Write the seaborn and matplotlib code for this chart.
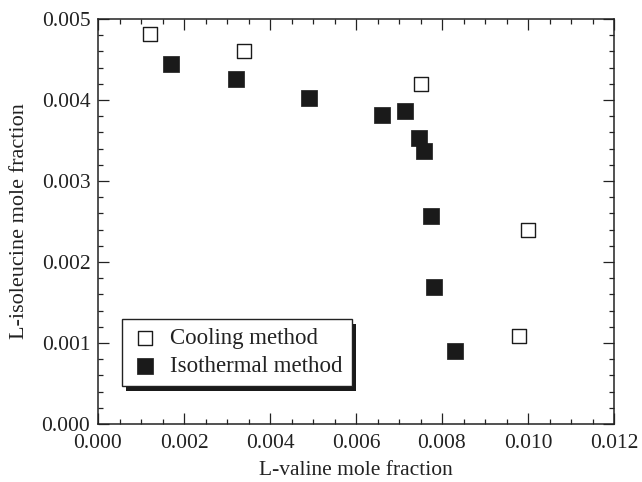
import matplotlib
matplotlib.use("Agg")
import matplotlib.pyplot as plt
import seaborn as sns
import pandas as pd
from matplotlib.ticker import MultipleLocator, FormatStrFormatter
from matplotlib.patches import Rectangle

# Data
cool_x = [0.00122, 0.0034, 0.0075, 0.0100, 0.0098]
cool_y = [0.00481, 0.0046, 0.0042, 0.00240, 0.00109]
iso_x = [0.0017, 0.0032, 0.0049, 0.0066, 0.00714, 0.00747, 0.00758, 0.00774, 0.00781, 0.0083]
iso_y = [0.00445, 0.00426, 0.00402, 0.00381, 0.00386, 0.00353, 0.00337, 0.00257, 0.00169, 0.0009]
series_names = ["Cooling method", "Isothermal method"]
x_label = "L-valine mole fraction"
y_label = "L-isoleucine mole fraction"

cool = pd.DataFrame({"x": cool_x, "y": cool_y})
iso = pd.DataFrame({"x": iso_x, "y": iso_y})

sns.set_style("ticks")
plt.rcParams["font.family"] = ["Liberation Serif", "DejaVu Serif"]

fig = plt.figure(figsize=(6.42, 4.82), dpi=100)
ax = fig.add_axes([98 / 642, 1 - 424 / 482, 516 / 642, 405 / 482])

sns.scatterplot(data=cool, x="x", y="y", ax=ax, marker="s", s=95,
                facecolor="white", edgecolor="#1a1a1a", linewidth=1.0,
                label=series_names[0], zorder=3)
sns.scatterplot(data=iso, x="x", y="y", ax=ax, marker="s", s=120,
                color="#1a1a1a", edgecolor="#1a1a1a", linewidth=0.5,
                label=series_names[1], zorder=3)

ax.set_xlim(0, 0.012)
ax.set_ylim(0, 0.005)
ax.xaxis.set_major_locator(MultipleLocator(0.002))
ax.xaxis.set_minor_locator(MultipleLocator(0.0005))
ax.yaxis.set_major_locator(MultipleLocator(0.001))
ax.yaxis.set_minor_locator(MultipleLocator(0.0002))
ax.xaxis.set_major_formatter(FormatStrFormatter("%.3f"))
ax.yaxis.set_major_formatter(FormatStrFormatter("%.3f"))

ax.tick_params(which="both", direction="in", top=True, right=True,
               color="#222222", width=0.9, labelsize=15.5, labelcolor="#222222")
ax.tick_params(which="major", length=8)
ax.tick_params(axis="x", which="major", pad=7)
ax.tick_params(axis="y", which="major", pad=5.5)
ax.tick_params(which="minor", length=3.6)
for sp in ax.spines.values():
    sp.set_linewidth(1.1)
    sp.set_color("#222222")

ax.set_xlabel(x_label, fontsize=15.5, color="#222222", labelpad=6)
ax.set_ylabel(y_label, fontsize=16, color="#222222", labelpad=9)

leg = ax.legend(loc="lower left", bbox_to_anchor=(24 / 516, 1 - (386 - 19) / 405),
                frameon=True, fancybox=False, fontsize=16.5, borderpad=0.4,
                handletextpad=0.5, handlelength=1.2, labelspacing=0.28,
                borderaxespad=0, markerscale=1.0)
leg.get_frame().set_edgecolor("#222222")
leg.get_frame().set_linewidth(1.0)
leg.get_frame().set_facecolor("white")
leg.get_frame().set_alpha(1)
for t in leg.get_texts():
    t.set_color("#222222")

fig.canvas.draw()
bb = leg.get_window_extent()
inv = ax.transAxes.inverted()
off = 4.5
(x0, y0) = inv.transform((bb.x0 + off, bb.y0 - off))
(x1, y1) = inv.transform((bb.x1 + off, bb.y1 - off))
shadow = Rectangle((x0, y0), x1 - x0, y1 - y0, transform=ax.transAxes,
                   facecolor="#1a1a1a", edgecolor="none", zorder=4.9, clip_on=False)
ax.add_patch(shadow)
leg.set_zorder(5)

fig.savefig("out.png", dpi=100)
